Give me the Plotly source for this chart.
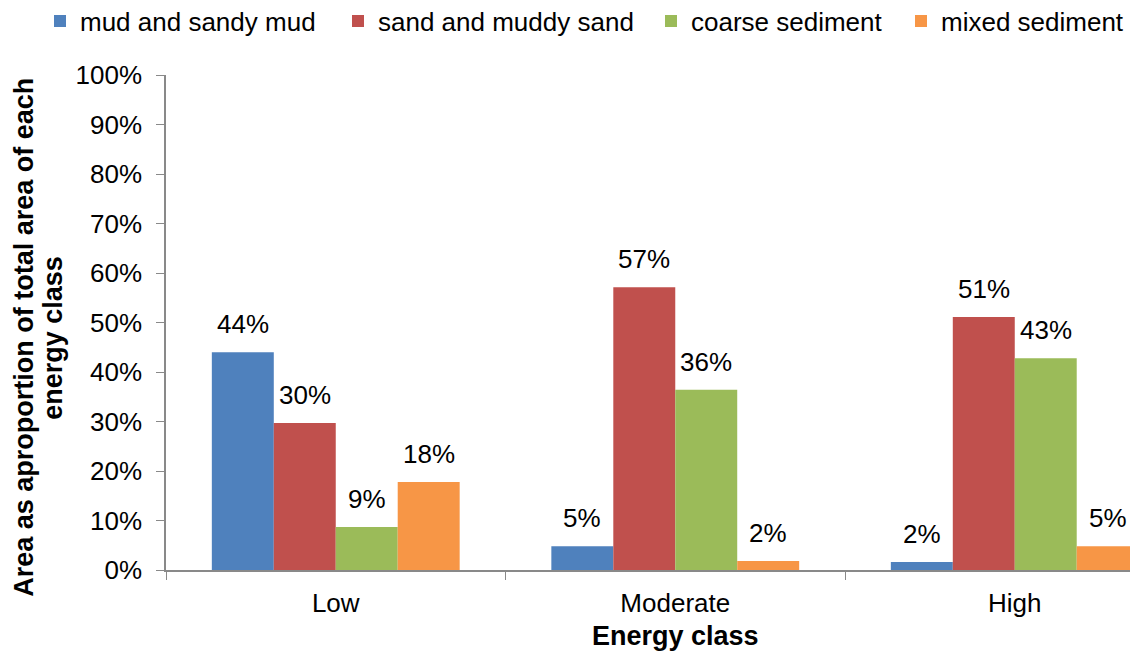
import plotly.graph_objects as go

categories = ["Low", "Moderate", "High"]
series_names = ["mud and sandy mud", "sand and muddy sand", "coarse sediment", "mixed sediment"]
mud = [0.44, 0.048, 0.016]
sand = [0.297, 0.571, 0.511]
coarse = [0.087, 0.364, 0.428]
mixed = [0.178, 0.018, 0.048]
colors = ["#4F81BD", "#C0504D", "#9BBB59", "#F79646"]
y_ticks = [i / 10 for i in range(11)]

FONT = "Liberation Sans, Arial, sans-serif"
BARGAP = 0.27
W, H = 1130, 649  # page body has an 8px margin

series = [mud, sand, coarse, mixed]
n = len(series)
legend_x_px = [32, 330, 643, 893]

fig = go.Figure()
for i, (name, vals, col) in enumerate(zip(series_names, series, colors)):
    lg = "legend" if i == 0 else f"legend{i+1}"
    fig.add_trace(go.Bar(
        x=categories, y=vals, name=name,
        marker=dict(color=col, line=dict(width=0)),
        legend=lg,
    ))
    # value labels above bars
    bw = (1 - BARGAP) / n
    off = -(1 - BARGAP) / 2 + bw * (i + 0.5)
    for j, v in enumerate(vals):
        fig.add_annotation(x=j + off, y=v, xref="x", yref="y",
                           text=f"{round(v*100):.0f}%", showarrow=False,
                           yanchor="bottom", yshift=11,
                           font=dict(family=FONT, size=26, color="black"))

legend_common = dict(orientation="h", xanchor="left", y=1 - 13 / H, yanchor="middle",
                     yref="container", xref="container", bgcolor="rgba(0,0,0,0)",
                     font=dict(family=FONT, size=26, color="black"))
layout_legends = {}
for i, xp in enumerate(legend_x_px):
    key = "legend" if i == 0 else f"legend{i+1}"
    layout_legends[key] = dict(x=xp / W, **legend_common)

fig.update_layout(
    width=W, height=H,
    margin=dict(l=158, r=0, t=67, b=87),
    paper_bgcolor="white", plot_bgcolor="white",
    barmode="group", bargap=BARGAP, bargroupgap=0,
    font=dict(family=FONT, color="black"),
    showlegend=True,
    xaxis=dict(range=[-0.5, 2.363], showline=True, linecolor="#898989", linewidth=1.5,
               ticks="outside", tickson="boundaries", ticklen=8, tickcolor="#898989",
               tickfont=dict(family=FONT, size=26, color="black"), showgrid=False,
               ticklabelstandoff=9),
    yaxis=dict(range=[0, 1], tickvals=y_ticks, tickformat=".0%", showline=True,
               linecolor="#898989", linewidth=1.5, ticks="outside", ticklen=8,
               tickcolor="#898989", tickfont=dict(family=FONT, size=26, color="black"),
               showgrid=False, zeroline=False, ticklabelstandoff=9),
    **layout_legends,
)

fig.add_annotation(text="<b>Energy class</b>", xref="x", yref="paper", x=1, y=0,
                   yshift=-66, showarrow=False, yanchor="middle",
                   font=dict(family=FONT, size=27, color="black"))
fig.add_annotation(text="<b>Area as aproportion of total area of each</b>",
                   xref="paper", yref="paper", x=0, y=0.469, xanchor="center",
                   yanchor="middle", xshift=-142, textangle=-90, showarrow=False,
                   font=dict(family=FONT, size=27, color="black"))
fig.add_annotation(text="<b>energy class</b>",
                   xref="paper", yref="paper", x=0, y=0.469, xanchor="center",
                   yanchor="middle", xshift=-113, textangle=-90, showarrow=False,
                   font=dict(family=FONT, size=27, color="black"))

fig.write_html("out.html")
